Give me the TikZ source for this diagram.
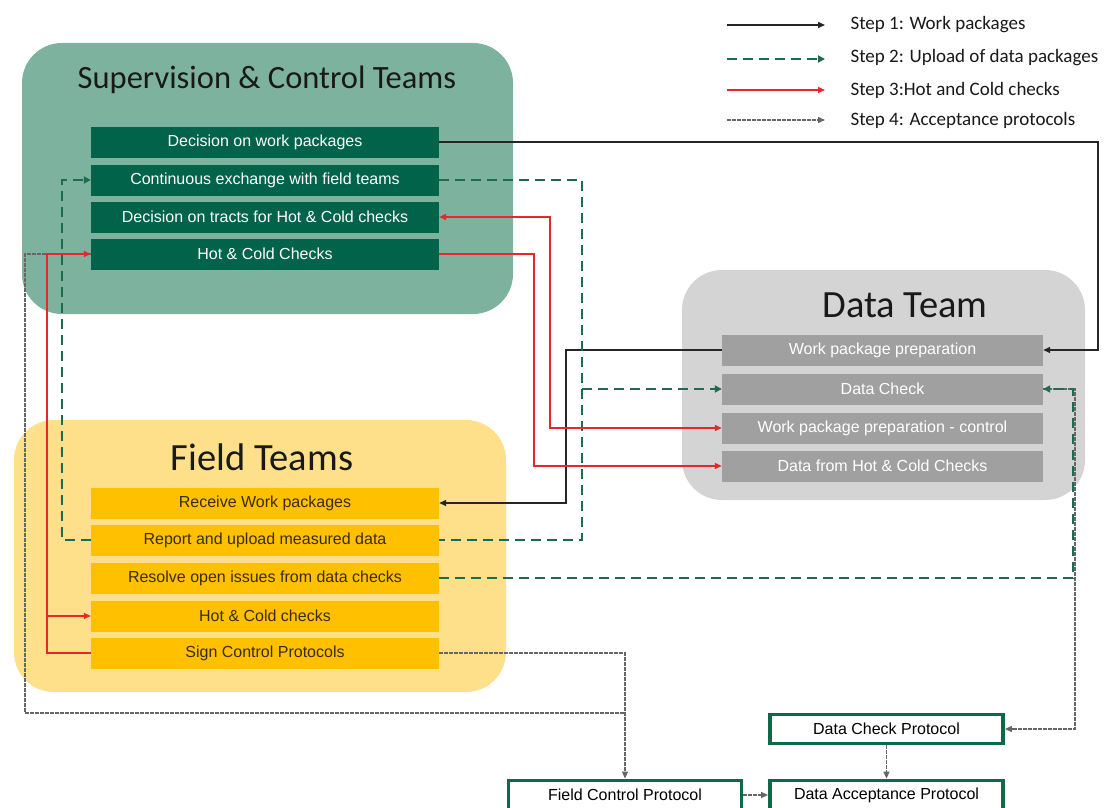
\documentclass[tikz,border=0pt]{standalone}
\usepackage{fontspec}
\setmainfont{Liberation Sans}
\newfontfamily\calib{Carlito}
\usetikzlibrary{arrows.meta}
\definecolor{supbg}{HTML}{7DB29F}
\definecolor{supbox}{HTML}{00634A}
\definecolor{fieldbg}{HTML}{FEDF8A}
\definecolor{fieldbox}{HTML}{FFC000}
\definecolor{databg}{HTML}{D4D4D4}
\definecolor{databox}{HTML}{A0A0A0}
\definecolor{dgreen}{HTML}{1E6B50}
\definecolor{myred}{HTML}{E8262B}
\definecolor{mygray}{HTML}{666666}
\definecolor{fieldtxt}{HTML}{3A2C08}
\definecolor{protoborder}{HTML}{0B6A48}
\begin{document}
\begin{tikzpicture}[x=1pt,y=-1pt,
  grp/.style={rounded corners=40pt, draw=none},
  box/.style={minimum width=348pt, minimum height=31pt, inner sep=0pt, font=\fontsize{16}{18}\selectfont},
  supb/.style={box, fill=supbox, text=white},
  fldb/.style={box, fill=fieldbox, text=fieldtxt},
  datb/.style={box, minimum width=321pt, fill=databox, text=white},
  proto/.style={draw=protoborder, line width=3.8pt, fill=white, minimum width=233pt, minimum height=29pt, inner sep=0pt, font=\fontsize{16}{18}\selectfont},
  grptitle/.style={text=black!90},
  legtext/.style={anchor=west, font=\calib\fontsize{19}{21}\selectfont, text=black!90},
  tip/.style={-{Triangle[length=7pt,width=6pt]}},
  s1/.style={draw=black!85, line width=1.4pt, tip},
  s2/.style={draw=dgreen, line width=2.7pt, dash pattern=on 10pt off 6pt, -{Triangle[length=7pt,width=7pt]}},
  s2line/.style={draw=dgreen, line width=2.7pt, dash pattern=on 10pt off 6pt},
  s3/.style={draw=myred, line width=1.4pt, tip},
  s3both/.style={draw=myred, line width=1.4pt, {Triangle[length=7pt,width=6pt]}-{Triangle[length=7pt,width=6pt]}},
  s4/.style={draw=mygray, line width=1.3pt, dash pattern=on 3.5pt off 1.5pt, tip},
  s4line/.style={draw=mygray, line width=1.3pt, dash pattern=on 3.5pt off 1.5pt}
]
\useasboundingbox (0,0) rectangle (1104,808);
\fill[white] (0,0) rectangle (1104,808);

% groups
\fill[supbg, grp] (22,43) rectangle (513,314);
\fill[fieldbg, grp] (14,420) rectangle (506,692);
\fill[databg, grp] (682,270) rectangle (1085,500);

\node[grptitle, font=\calib\fontsize{32.5}{38}\selectfont] (t1) at (267,80) {Supervision \& Control Teams};
\node[grptitle, font=\calib\fontsize{38.5}{44}\selectfont] (t2) at (262,457) {Field Teams};
\node[grptitle, font=\calib\fontsize{38.5}{44}\selectfont] (t3) at (905,305) {Data Team};

% supervision boxes
\node[supb] (sup1) at (265,142) {Decision on work packages};
\node[supb] (sup2) at (265,180) {Continuous exchange with field teams};
\node[supb] (sup3) at (265,217) {Decision on tracts for Hot \& Cold checks};
\node[supb] (sup4) at (265,254) {Hot \& Cold Checks};

% field boxes
\node[fldb] (fld1) at (265,503) {Receive Work packages};
\node[fldb] (fld2) at (265,540) {Report and upload measured data};
\node[fldb] (fld3) at (265,578) {Resolve open issues from data checks};
\node[fldb] (fld4) at (265,616) {Hot \& Cold checks};
\node[fldb] (fld5) at (265,653) {Sign Control Protocols};

% data boxes
\node[datb] (dat1) at (882.5,350) {Work package preparation};
\node[datb] (dat2) at (882.5,389) {Data Check};
\node[datb] (dat3) at (882.5,428) {Work package preparation - control};
\node[datb] (dat4) at (882.5,466) {Data from Hot \& Cold Checks};

% protocol boxes
\node[proto] (dcp) at (886.5,729) {Data Check Protocol};
\node[proto] (fcp) at (625,795) {Field Control Protocol};
\node[proto] (dap) at (886.5,795) {Data Acceptance Protocol};

% step 4 (gray)
\draw[s4line] (sup4.west) -- (25,254) |- (625,713);
\draw[s4] (fld5.east) -- (625,653) -- (fcp.north);
\draw[s4] (dat2.east) -- (1075,389) |- (dcp.east);
\draw[s4] (dcp.south) -- (dap.north);
\draw[s4] (fcp.east) -- (dap.west);

% step 1 (black)
\draw[s1] (sup1.east) -- (1098,142) |- (dat1.east);
\draw[s1] (dat1.west) -- (566,350) |- (fld1.east);

% step 2 (green dashed)
\coordinate (gj) at (582,389);
\draw[s2] (fld2.west) -- (62,540) |- (sup2.west);
\draw[s2line] (sup2.east) -- (582,180) |- (fld2.east);
\draw[s2] (gj) -- (dat2.west);
\draw[s2] (fld3.east) -- (1073,578) |- (dat2.east);

% step 3 (red)
\coordinate (rj) at (47,616);
\draw[s3] (sup4.east) -- (534,254) |- (dat4.west);
\draw[s3both] (dat3.west) -- (550,428) |- (sup3.east);
\draw[s3] (fld5.west) -- (47,653) |- (sup4.west);
\draw[s3] (rj) -- (fld4.west);

% legend
\coordinate (l1a) at (727,25); \coordinate (l1b) at (825,25);
\coordinate (l2a) at (727,59); \coordinate (l2b) at (825,59);
\coordinate (l3a) at (727,90); \coordinate (l3b) at (825,90);
\coordinate (l4a) at (727,120); \coordinate (l4b) at (825,120);
\draw[s1] (l1a) -- (l1b);
\draw[s2] (l2a) -- (l2b);
\draw[s3] (l3a) -- (l3b);
\draw[s4] (l4a) -- (l4b);
\node[legtext] (lt1) at (847,25) {Step 1: Work packages};
\node[legtext] (lt2) at (847,58) {Step 2: Upload of data packages};
\node[legtext] (lt3) at (847,90) {Step 3:Hot and Cold checks};
\node[legtext] (lt4) at (847,120) {Step 4: Acceptance protocols};
\end{tikzpicture}
\end{document}
